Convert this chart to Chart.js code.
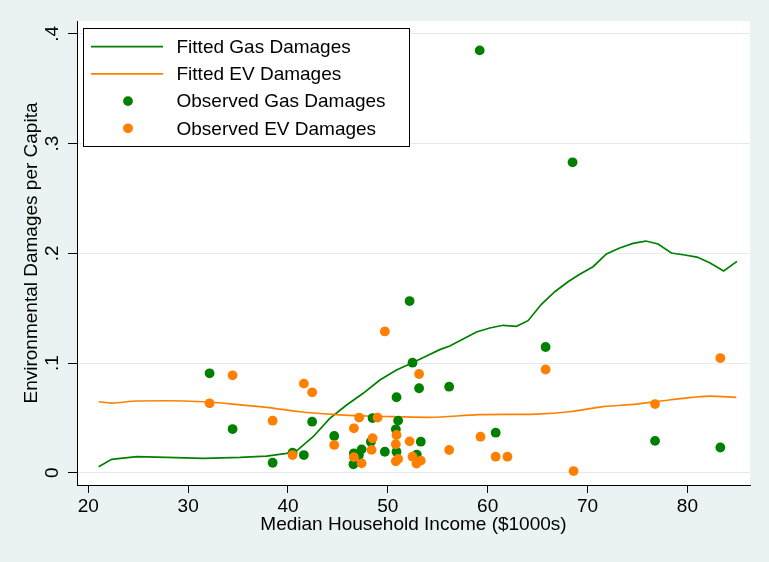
<!DOCTYPE html>
<html>
<head>
<meta charset="utf-8">
<script src="https://cdn.jsdelivr.net/npm/chart.js@4.4.1/dist/chart.umd.min.js"></script>
<style>
  html, body { margin: 0; padding: 0; background: #eaf2f3; }
  #wrap { width: 769px; height: 562px; }
</style>
</head>
<body>
<div id="wrap"><canvas id="c" width="769" height="562"></canvas></div>
<script>
// Observed damages by county: median household income ($1000s) and damages per capita
const gasIncome = [32.15, 34.45, 38.46, 40.46, 41.59, 42.42, 44.63, 46.55, 46.6, 47.37, 47.1, 48.3, 48.47,
  49.7, 50.8, 50.87, 51.03, 50.87, 52.18, 52.47, 52.9, 53.13, 53.3, 56.14, 59.2, 60.8, 65.8, 68.5, 76.76, 83.3];
const gasObserved = [0.0906, 0.0398, 0.0091, 0.0182, 0.0161, 0.0465, 0.0335, 0.0077, 0.0177, 0.0213, 0.016, 0.0283, 0.0498,
  0.0191, 0.0396, 0.0688, 0.0475, 0.0191, 0.1565, 0.1003, 0.0165, 0.077, 0.0283, 0.0784, 0.385, 0.0365, 0.1146, 0.283, 0.029, 0.023];

const evIncome = [32.15, 34.45, 38.46, 40.46, 41.59, 42.42, 44.63, 46.6, 46.6, 47.13, 47.37, 48.37, 48.47, 48.97,
  49.7, 50.8, 50.87, 50.8, 51.03, 52.18, 52.47, 52.87, 53.3, 53.13, 56.14, 59.28, 60.8, 61.98, 65.8, 68.6, 76.76, 83.3];
const evObserved = [0.0633, 0.0888, 0.0474, 0.0161, 0.0812, 0.0733, 0.0253, 0.0405, 0.0142, 0.0503, 0.0086, 0.0208, 0.0314, 0.0503,
  0.1288, 0.026, 0.0344, 0.0104, 0.0125, 0.0286, 0.0146, 0.0083, 0.011, 0.09, 0.0207, 0.0328, 0.0146, 0.0146, 0.0941, 0.0015, 0.0626, 0.1045];

// Fitted (smoothed) damages
const fitGasIncome = [21.04, 22.34, 24.84, 27.85, 31.5, 35.2, 37.86, 39.86, 40.86, 42.52, 44.19, 45.87, 47.53, 49.2,
  50.87, 52.47, 53.87, 55.2, 56.2, 57.54, 58.88, 60.21, 61.54, 62.88, 64.04, 65.38, 66.72, 68.05, 69.22, 70.55,
  71.89, 73.22, 74.55, 75.83, 77.06, 78.4, 79.73, 80.96, 82.23, 83.63, 84.97];
const fitGasDamage = [0.0055, 0.0122, 0.0146, 0.014, 0.0131, 0.014, 0.0152, 0.0177, 0.02, 0.0328, 0.0496, 0.0617, 0.0724, 0.0845,
  0.0936, 0.1003, 0.1064, 0.1122, 0.1155, 0.1219, 0.1283, 0.1319, 0.1344, 0.1335, 0.1386, 0.1535, 0.165, 0.1741, 0.1809, 0.1878,
  0.1994, 0.2048, 0.2091, 0.2112, 0.2085, 0.2003, 0.1985, 0.1966, 0.1914, 0.1839, 0.1927];

const fitEvIncome = [21.04, 22.34, 24.84, 27.85, 31.5, 34.5, 37.86, 41.2, 44.5, 47.87, 50.87, 54.2, 59.2, 64.88,
  68.2, 71.55, 74.9, 77.56, 79.56, 82.23, 84.9];
const fitEvDamage = [0.0647, 0.0635, 0.0654, 0.0656, 0.0647, 0.0626, 0.0596, 0.0556, 0.0532, 0.0517, 0.051, 0.0505, 0.0529, 0.0535,
  0.0556, 0.0602, 0.0626, 0.0656, 0.0678, 0.0699, 0.0687];

const xTicks = [20, 30, 40, 50, 60, 70, 80];
const yTicks = ['0', '.1', '.2', '.3', '.4'];

const GREEN = '#008000';
const ORANGE = '#ff8000';
const FONT = "'Liberation Sans', Arial, Helvetica, sans-serif";
const pairs = (xs, ys) => xs.map((x, i) => ({ x, y: ys[i] }));

Chart.defaults.font.family = FONT;
Chart.defaults.font.size = 19;
Chart.defaults.color = '#000';

// Grey graph region with a white plot region
const panels = {
  id: 'panels',
  beforeDraw(chart) {
    const { ctx, chartArea: a } = chart;
    ctx.save();
    ctx.fillStyle = '#eaf2f3';
    ctx.fillRect(0, 0, chart.width, chart.height);
    ctx.fillStyle = '#ffffff';
    ctx.fillRect(a.left, a.top, a.right - a.left, a.bottom - a.top);
    ctx.restore();
  }
};

// Boxed legend inside the top-left corner of the plot region
const insetLegend = {
  id: 'insetLegend',
  beforeDatasetsDraw(chart) {
    const { ctx, chartArea: a } = chart;
    const x0 = Math.round(a.left + 6), y0 = Math.round(a.top + 7), w = 326, h = 118;
    ctx.save();
    ctx.fillStyle = '#ffffff';
    ctx.fillRect(x0, y0, w, h);
    ctx.strokeStyle = '#000';
    ctx.lineWidth = 1;
    ctx.strokeRect(x0 + 0.5, y0 + 0.5, w, h);
    chart.data.datasets.forEach((ds, i) => {
      const y = y0 + 18.7 + i * 27.2;
      if (ds.showLine) {
        ctx.strokeStyle = ds.borderColor;
        ctx.lineWidth = ds.borderWidth;
        ctx.beginPath();
        ctx.moveTo(x0 + 8, y);
        ctx.lineTo(x0 + 80, y);
        ctx.stroke();
      } else {
        ctx.fillStyle = ds.backgroundColor;
        ctx.beginPath();
        ctx.arc(x0 + 45, y, ds.pointRadius, 0, Math.PI * 2);
        ctx.fill();
      }
      ctx.fillStyle = '#000';
      ctx.font = '19px ' + FONT;
      ctx.textAlign = 'left';
      ctx.textBaseline = 'middle';
      ctx.fillText(ds.label, x0 + 93.5, y + 1);
    });
    ctx.restore();
  }
};

new Chart(document.getElementById('c'), {
  type: 'scatter',
  data: {
    datasets: [
      { label: 'Fitted Gas Damages', data: pairs(fitGasIncome, fitGasDamage), showLine: true,
        borderColor: GREEN, backgroundColor: GREEN, borderWidth: 1.7, pointRadius: 0, tension: 0, order: 3 },
      { label: 'Fitted EV Damages', data: pairs(fitEvIncome, fitEvDamage), showLine: true,
        borderColor: ORANGE, backgroundColor: ORANGE, borderWidth: 1.7, pointRadius: 0,
        cubicInterpolationMode: 'monotone', order: 2 },
      { label: 'Observed Gas Damages', data: pairs(gasIncome, gasObserved),
        backgroundColor: GREEN, borderWidth: 0, pointRadius: 4.9, pointHoverRadius: 4.9, order: 1 },
      { label: 'Observed EV Damages', data: pairs(evIncome, evObserved),
        backgroundColor: ORANGE, borderWidth: 0, pointRadius: 4.9, pointHoverRadius: 4.9, order: 0 }
    ]
  },
  options: {
    responsive: false,
    animation: false,
    events: [],
    layout: { padding: { top: 21, right: 19, left: 0, bottom: 0 } },
    plugins: { legend: { display: false }, tooltip: { enabled: false } },
    scales: {
      x: {
        type: 'linear', min: 18.87, max: 86.27, bounds: 'data',
        afterFit(s) { s.height = 77; },
        afterBuildTicks(s) { s.ticks = xTicks.map(v => ({ value: v })); },
        border: { display: true, color: '#000', width: 1 },
        grid: { drawOnChartArea: false, drawTicks: true, tickLength: 8, tickColor: '#000', tickWidth: 1 },
        ticks: { padding: 2, maxRotation: 0, color: '#000', font: { size: 19 }, callback: v => String(v) },
        title: { display: true, text: 'Median Household Income ($1000s)', color: '#000',
          font: { size: 19 }, padding: { top: 0, bottom: 26 } }
      },
      y: {
        type: 'linear', min: -0.0112, max: 0.4118, bounds: 'data',
        afterFit(s) { s.width = 77; },
        afterBuildTicks(s) { s.ticks = yTicks.map(t => ({ value: Number(t) })); },
        border: { display: true, color: '#000', width: 1 },
        grid: { color: '#e2eaed', lineWidth: 1, tickColor: '#000', tickLength: 9, tickWidth: 1 },
        ticks: { minRotation: 90, maxRotation: 90, crossAlign: 'center', padding: 7, color: '#000',
          font: { size: 19 }, callback: (v, i) => yTicks[i] },
        title: { display: true, text: 'Environmental Damages per Capita', color: '#000',
          font: { size: 19 }, padding: { top: 20, bottom: 0 } }
      }
    }
  },
  plugins: [panels, insetLegend]
});
</script>
</body>
</html>
